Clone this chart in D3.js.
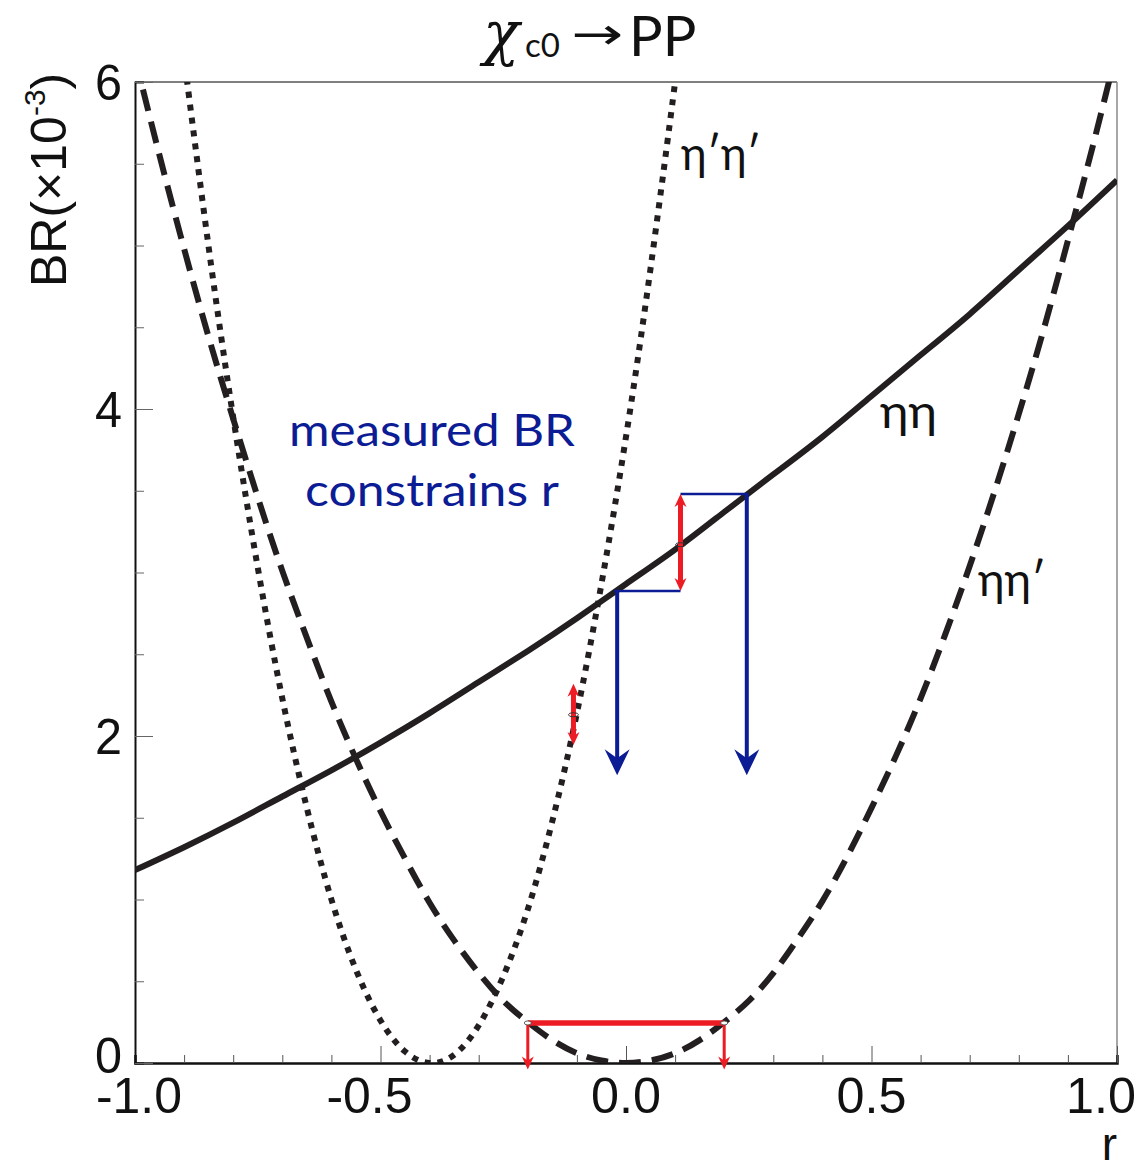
<!DOCTYPE html>
<html lang="en">
<head>
<meta charset="UTF-8" />
<title>chi_c0 to PP</title>
<script src="https://cdn.jsdelivr.net/npm/d3@7"></script>
<style>
  body { margin: 0; background: #fff; }
  text { fill: #111; }
</style>
</head>
<body>
<div id="chart"></div>
<script>
// --- data ---
const rEtaEta = [-1.0, -0.9, -0.8, -0.7, -0.6, -0.5, -0.4, -0.3, -0.2, -0.1, 0.0,
                 0.1, 0.2, 0.3, 0.4, 0.5, 0.6, 0.7, 0.8, 0.9, 1.0];
const brEtaEta = [1.18, 1.32, 1.47, 1.63, 1.79, 1.96, 2.14, 2.33, 2.52, 2.72, 2.93,
                  3.14, 3.37, 3.60, 3.83, 4.08, 4.33, 4.58, 4.85, 5.12, 5.40];

const rEtaEtap = [-1.0, -0.95, -0.9, -0.85, -0.8, -0.75, -0.7, -0.65, -0.6, -0.55, -0.5,
                  -0.45, -0.4, -0.35, -0.3, -0.25, -0.2, -0.15, -0.1, -0.05, 0.0,
                  0.05, 0.1, 0.15, 0.2, 0.25, 0.3, 0.35, 0.4, 0.45, 0.5,
                  0.55, 0.6, 0.65, 0.7, 0.75, 0.8, 0.85, 0.9, 0.95, 1.0];
const brEtaEtap = [6.15, 5.55, 4.98, 4.44, 3.94, 3.46, 3.01, 2.60, 2.21, 1.86, 1.54,
                   1.25, 0.98, 0.75, 0.55, 0.38, 0.25, 0.14, 0.06, 0.015, 0.0,
                   0.015, 0.06, 0.14, 0.25, 0.38, 0.55, 0.76, 0.99, 1.26, 1.56,
                   1.88, 2.23, 2.62, 3.04, 3.49, 3.97, 4.48, 5.03, 5.60, 6.20];

const rEtapEtap = [-0.92, -0.9, -0.85, -0.8, -0.75, -0.7, -0.65, -0.6, -0.55, -0.5,
                   -0.45, -0.4, -0.35, -0.3, -0.25, -0.2, -0.15, -0.1, -0.05, 0.0,
                   0.05, 0.1, 0.12];
const brEtapEtap = [6.65, 6.15, 4.99, 3.95, 3.03, 2.23, 1.56, 1.00, 0.57, 0.26,
                    0.07, 0.0, 0.05, 0.23, 0.53, 0.94, 1.48, 2.14, 2.93, 3.83,
                    4.86, 6.00, 6.50];

// measured BR bands (blue) and the r ranges they give (red)
const bandLevels = [2.887, 3.48];
const bandStartR = [-0.024, 0.111];
const bandEndR = [0.111, 0.248];
const dropR = [-0.018, 0.246];
const dropTo = 1.76;

const errR = [0.111, -0.107];
const errLo = [2.887, 1.945];
const errHi = [3.48, 2.32];
const errMid = [3.17, 2.13];

const rangeLevel = 0.245;
const rangeR = [-0.2, 0.2];
const rangeTip = -0.04;

const xTicksMajor = [-1.0, -0.5, 0.0, 0.5, 1.0];
const xTickLabels = ["-1.0", "-0.5", "0.0", "0.5", "1.0"];
const yTicksMajor = [0, 2, 4, 6];

// --- layout ---
const W = 1138, H = 1173;
const mLeft = 135, mTop = 82, mRight = 1117, mBottom = 1063;

const svg = d3.select("#chart").append("svg").attr("width", W).attr("height", H);

const x = d3.scaleLinear().domain([-1, 1]).range([mLeft, mRight]);
const y = d3.scaleLinear().domain([0, 6]).range([mBottom, mTop]);

svg.append("defs").append("clipPath").attr("id", "clip")
  .append("rect").attr("x", mLeft).attr("y", mTop)
  .attr("width", mRight - mLeft).attr("height", mBottom - mTop);

// frame (top / right thin)
svg.append("line").attr("x1", mLeft).attr("x2", mRight).attr("y1", mTop).attr("y2", mTop)
  .attr("stroke", "#555").attr("stroke-width", 1.5);
svg.append("line").attr("x1", mRight).attr("x2", mRight).attr("y1", mTop).attr("y2", mBottom)
  .attr("stroke", "#888").attr("stroke-width", 1.5);

// x axis
const xAxis = d3.axisBottom(x).tickValues(d3.range(-10, 11).map(d => d / 10))
  .tickSize(-8).tickFormat("");
const gx = svg.append("g").attr("transform", `translate(0,${mBottom})`).call(xAxis);
gx.selectAll(".tick line").attr("stroke", "#555").attr("y2", d => Math.abs(Math.round(d * 10) % 5) === 0 ? -17 : -8);
gx.select(".domain").attr("stroke", "#111").attr("stroke-width", 2.5);

// tick labels are a bit condensed in the original
const xLabelShift = d => d === -1 ? 4 : d < 0 ? -11 : d === 1 ? -16 : 0;
svg.selectAll(".xlab").data(xTicksMajor).join("text")
  .attr("class", "xlab")
  .attr("x", d => x(d) + xLabelShift(d))
  .attr("y", 1113)
  .attr("text-anchor", "middle")
  .attr("textLength", (d, i) => xTickLabels[i].length === 4 ? 86 : 70)
  .attr("lengthAdjust", "spacingAndGlyphs")
  .style("font-family", "'Liberation Sans', Arial, sans-serif")
  .style("font-size", "50px")
  .text((d, i) => xTickLabels[i]);

// y axis
const yAxis = d3.axisLeft(y).tickValues(d3.range(0, 13).map(d => d / 2))
  .tickSize(-9).tickFormat("");
const gy = svg.append("g").attr("transform", `translate(${mLeft},0)`).call(yAxis);
gy.selectAll(".tick line").attr("stroke", "#666").attr("x2", d => d % 2 === 0 ? 18 : 9);
gy.select(".domain").attr("stroke", "#111").attr("stroke-width", 2);

svg.selectAll(".ylab").data(yTicksMajor).join("text")
  .attr("class", "ylab")
  .attr("x", 122).attr("y", d => d === 0 ? y(d) + 10 : y(d) + 18)
  .attr("text-anchor", "end")
  .attr("textLength", 27).attr("lengthAdjust", "spacingAndGlyphs")
  .style("font-family", "'Liberation Sans', Arial, sans-serif")
  .style("font-size", "50px")
  .text(d => d);

// y title
const yt = svg.append("text")
  .attr("transform", "translate(66,287) rotate(-90)")
  .style("font-family", "'Liberation Sans', Arial, sans-serif")
  .style("font-size", "50px");
yt.append("tspan").text("BR(\u00d710");
yt.append("tspan").attr("dy", -21).style("font-size", "30px").text("-3");
yt.append("tspan").attr("dy", 21).text(")");

// x title
svg.append("text").attr("x", 1117).attr("y", 1160).attr("text-anchor", "end")
  .style("font-family", "'Liberation Sans', Arial, sans-serif")
  .style("font-size", "46px").text("r");

// title
svg.append("text").attr("x", 483).attr("y", 54)
  .style("font-family", "'DejaVu Serif', serif").style("font-style", "italic")
  .style("font-size", "60px").text("\u03c7");
svg.append("text").attr("x", 525).attr("y", 57)
  .style("font-family", "Lato, 'Open Sans', sans-serif")
  .style("font-size", "33px").text("c0");
svg.append("text").attr("x", 571).attr("y", 49)
  .attr("textLength", 52).attr("lengthAdjust", "spacingAndGlyphs")
  .style("font-family", "'DejaVu Sans', sans-serif")
  .style("font-size", "44px").text("\u2192");
svg.append("text").attr("x", 629).attr("y", 56)
  .style("font-family", "Lato, 'Open Sans', sans-serif")
  .style("font-size", "56px").text("PP");

// --- curves ---
const line = d3.line().x(d => x(d[0])).y(d => y(d[1])).curve(d3.curveNatural);
const plot = svg.append("g").attr("clip-path", "url(#clip)");

plot.append("path").datum(d3.zip(rEtapEtap, brEtapEtap))
  .attr("d", line).attr("fill", "none").attr("stroke", "#231f20")
  .attr("stroke-width", 6).attr("stroke-dasharray", "6,7");

plot.append("path").datum(d3.zip(rEtaEtap, brEtaEtap))
  .attr("d", line).attr("fill", "none").attr("stroke", "#231f20")
  .attr("stroke-width", 6).attr("stroke-dasharray", "22,11");

plot.append("path").datum(d3.zip(rEtaEta, brEtaEta))
  .attr("d", line).attr("fill", "none").attr("stroke", "#231f20")
  .attr("stroke-width", 6);

// curve labels
const lab = (txt, lx, ly, len) => svg.append("text").attr("x", lx).attr("y", ly)
  .attr("textLength", len).attr("lengthAdjust", "spacingAndGlyphs")
  .style("font-family", "Lato, 'Open Sans', sans-serif").style("font-size", "46px").text(txt);
lab("\u03b7\u2032\u03b7\u2032", 681, 170, 80);
lab("\u03b7\u03b7", 880, 428, 57);
lab("\u03b7\u03b7\u2032", 978, 596, 68);

// --- measured BR annotation ---
const blue = "#0b1c94", red = "#ed1c24";

svg.append("text").attr("x", 432).attr("y", 446).attr("text-anchor", "middle")
  .attr("textLength", 286).attr("lengthAdjust", "spacingAndGlyphs")
  .style("font-family", "Lato, 'Open Sans', sans-serif").style("font-size", "45px")
  .style("fill", blue).text("measured BR");
svg.append("text").attr("x", 432).attr("y", 506).attr("text-anchor", "middle")
  .attr("textLength", 254).attr("lengthAdjust", "spacingAndGlyphs")
  .style("font-family", "Lato, 'Open Sans', sans-serif").style("font-size", "45px")
  .style("fill", blue).text("constrains r");

bandLevels.forEach((lv, i) => {
  svg.append("line").attr("x1", x(bandStartR[i])).attr("x2", x(bandEndR[i]))
    .attr("y1", y(lv)).attr("y2", y(lv)).attr("stroke", blue).attr("stroke-width", 2.5);
  const xd = x(dropR[i]), yt0 = y(dropTo);
  svg.append("line").attr("x1", xd).attr("x2", xd).attr("y1", y(lv)).attr("y2", yt0 - 12)
    .attr("stroke", blue).attr("stroke-width", 4);
  svg.append("path")
    .attr("d", `M${xd},${yt0} L${xd - 12.5},${yt0 - 26} L${xd},${yt0 - 17} L${xd + 12.5},${yt0 - 26} Z`)
    .attr("fill", blue);
});

function redHead(px, py, dir) {
  // dir = 1 points down, -1 points up
  return `M${px},${py} L${px - 6},${py - dir * 13} L${px},${py - dir * 9} L${px + 6},${py - dir * 13} Z`;
}

errR.forEach((r, i) => {
  const px = x(r), yHi = y(errHi[i]), yLo = y(errLo[i]);
  svg.append("line").attr("x1", px).attr("x2", px).attr("y1", yHi + 6).attr("y2", yLo - 6)
    .attr("stroke", red).attr("stroke-width", 5);
  svg.append("path").attr("d", redHead(px, yHi, -1)).attr("fill", red);
  svg.append("path").attr("d", redHead(px, yLo, 1)).attr("fill", red);
  svg.append("ellipse").attr("cx", px).attr("cy", y(errMid[i])).attr("rx", 5).attr("ry", 2)
    .attr("fill", "none").attr("stroke", "#333").attr("stroke-width", 1);
});

svg.append("line").attr("x1", x(rangeR[0])).attr("x2", x(rangeR[1]))
  .attr("y1", y(rangeLevel)).attr("y2", y(rangeLevel))
  .attr("stroke", red).attr("stroke-width", 5.5);
rangeR.forEach(r => {
  const px = x(r);
  svg.append("line").attr("x1", px).attr("x2", px).attr("y1", y(rangeLevel)).attr("y2", y(rangeTip) - 6)
    .attr("stroke", red).attr("stroke-width", 3);
  svg.append("path").attr("d", redHead(px, y(rangeTip), 1)).attr("fill", red);
  svg.append("ellipse").attr("cx", px).attr("cy", y(rangeLevel)).attr("rx", 3.5).attr("ry", 2)
    .attr("fill", "#fff").attr("stroke", "#333").attr("stroke-width", 0.8);
});
</script>
</body>
</html>
